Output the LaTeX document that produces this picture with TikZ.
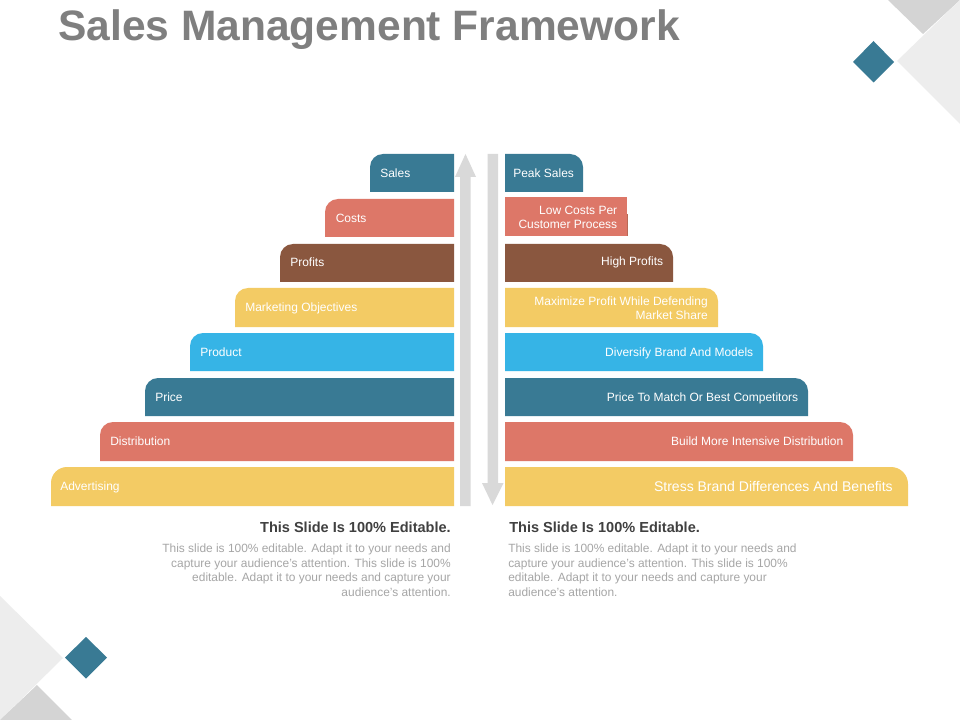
\documentclass[tikz,border=0pt]{standalone}
\usepackage{fontspec}
\setmainfont{Liberation Sans}
\definecolor{teal}{HTML}{397A94}
\definecolor{salmon}{HTML}{DD7768}
\definecolor{brownb}{HTML}{8A573F}
\definecolor{yellowb}{HTML}{F3CB64}
\definecolor{blueb}{HTML}{36B4E6}
\definecolor{arrowg}{HTML}{D9D9D9}
\definecolor{decolight}{HTML}{EDEDED}
\definecolor{decodark}{HTML}{D4D4D4}
\definecolor{titleg}{HTML}{7F7F7F}
\definecolor{headg}{HTML}{404040}
\definecolor{bodyg}{HTML}{A6A6A6}
\newcommand{\fs}[1]{\fontsize{#1}{10.5}\selectfont}
\tikzset{
  x=0.75pt,y=-0.75pt,
  barlabel/.style={text=white,inner sep=0pt,font=\fs{9},align=right,text height=6.5pt,text depth=2pt},
  leftlab/.style={barlabel,anchor=west,align=left},
  rightlab/.style={barlabel,anchor=east},
}
\newcommand{\lbar}[5][13]{\fill[#5] (454,#3) -- (454,#4) -- (#2,#4) -- (#2,#3+#1) arc[start angle=180,end angle=90,radius=#1*0.75pt] -- cycle;}
\newcommand{\rbar}[5][13]{\fill[#5] (505,#3) -- (505,#4) -- (#2,#4) -- (#2,#3+#1) arc[start angle=0,end angle=90,radius=#1*0.75pt] -- cycle;}
\begin{document}
\begin{tikzpicture}
\useasboundingbox (0,0) rectangle (960,720);
\fill[white] (0,0) rectangle (960,720);
% decorations
\fill[decodark] (888,0) -- (923,34) -- (960,0) -- cycle;
\fill[decolight] (897,61) -- (960,0) -- (960,124) -- cycle;
\fill[teal] (873.5,41) -- (894,62) -- (873.5,82.5) -- (853,62) -- cycle;
\fill[decolight] (0,596) -- (63,658) -- (0,720) -- cycle;
\fill[decodark] (37,685) -- (72,720) -- (0,720) -- cycle;
\fill[teal] (86,637) -- (107,657.5) -- (86,678.5) -- (65,657.5) -- cycle;
% title
\node[anchor=base west,inner sep=0pt,text=titleg,font=\fontsize{31.9}{32}\selectfont\bfseries] (title) at (58,41) {Sales Management Framework};
% left bars
\lbar{370}{154}{192}{teal}
\lbar{325}{199}{237}{salmon}
\lbar{280}{244}{282}{brownb}
\lbar{235}{288}{327}{yellowb}
\lbar{190}{333}{371}{blueb}
\lbar{145}{378}{416}{teal}
\lbar{100}{422}{461}{salmon}
\lbar[16]{51}{467}{506}{yellowb}
% right bars
\rbar{583}{154}{192}{teal}
\fill[brownb!45!salmon] (626,214) rectangle (627.8,236);
\fill[salmon] (505,197) rectangle (627,236);
\rbar{673}{244}{282}{brownb}
\rbar{718}{288}{327}{yellowb}
\rbar{763}{333}{371}{blueb}
\rbar{808}{378}{416}{teal}
\rbar{853}{422}{461}{salmon}
\rbar[17]{908}{467}{506}{yellowb}
% arrows
\fill[arrowg] (460,506) -- (460,177) -- (455,177) -- (465.5,154) -- (476,177) -- (470.5,177) -- (470.5,506) -- cycle;
\fill[arrowg] (487.5,154) -- (487.5,483) -- (482,483) -- (492.5,505) -- (503.5,483) -- (498,483) -- (498,154) -- cycle;
% left labels
\node[leftlab] (l1) at (380,174.3) {Sales};
\node[leftlab] (l2) at (335.5,219.3) {Costs};
\node[leftlab] (l3) at (290,263.3) {Profits};
\node[leftlab] (l4) at (245,308.3) {Marketing Objectives};
\node[leftlab] (l5) at (200,353.3) {Product};
\node[leftlab] (l6) at (155,398.3) {Price};
\node[leftlab] (l7) at (110,442.3) {Distribution};
\node[leftlab] (l8) at (60,487.3) {Advertising};
% right labels
\node[leftlab] (r1) at (513,174.3) {Peak Sales};
\node[rightlab] (r2) at (617.5,225.3) {Low Costs Per\\Customer Process};
\node[rightlab] (r3) at (663.5,262.8) {High Profits};
\node[rightlab] (r4) at (708,316.3) {Maximize Profit While Defending\\Market Share};
\node[rightlab] (r5) at (753.5,353.3) {Diversify Brand And Models};
\node[rightlab] (r6) at (798.5,398.3) {Price To Match Or Best Competitors};
\node[rightlab] (r7) at (843.5,442.3) {Build More Intensive Distribution};
\node[rightlab,font=\fs{10.5}] (r8) at (893,488.6) {Stress Brand Differences And Benefits};
% captions
\node[anchor=base east,inner sep=0pt,text=headg,font=\fs{10.9}\bfseries] (hl) at (451,532.5) {This Slide Is 100\% Editable.};
\node[anchor=base west,inner sep=0pt,text=headg,font=\fs{10.9}\bfseries] (hr) at (509,532.5) {This Slide Is 100\% Editable.};
\node[anchor=north east,inner sep=0pt,text=bodyg,align=right,font=\fontsize{8.95}{10.85}\selectfont] (bl) at (451,544) {This slide is 100\% editable. Adapt it to your needs and\\capture your audience's attention. This slide is 100\%\\editable. Adapt it to your needs and capture your\\audience's attention.};
\node[anchor=north west,inner sep=0pt,text=bodyg,align=left,font=\fontsize{8.95}{10.85}\selectfont] (br) at (508,544) {This slide is 100\% editable. Adapt it to your needs and\\capture your audience's attention. This slide is 100\%\\editable. Adapt it to your needs and capture your\\audience's attention.};
\end{tikzpicture}
\end{document}
